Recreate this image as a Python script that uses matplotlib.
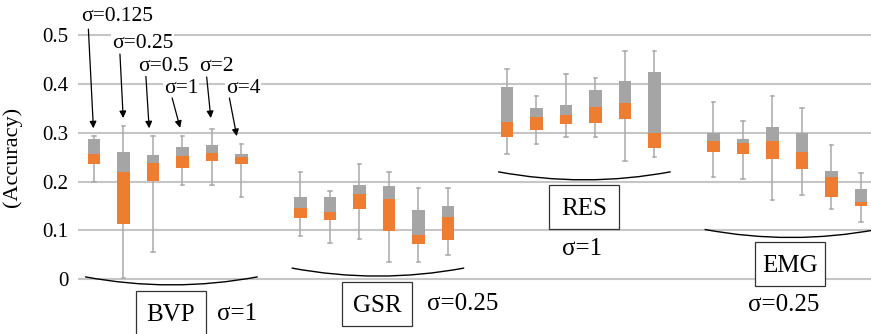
import matplotlib
matplotlib.use("Agg")
import matplotlib.pyplot as plt
from matplotlib.patches import Rectangle, PathPatch
from matplotlib.path import Path

plt.rcParams["font.family"] = ["Liberation Serif", "DejaVu Serif"]

# box statistics per signal, one entry per sigma (0.125, 0.25, 0.5, 1, 2, 4)
sigmas = ["σ=0.125", "σ=0.25", "σ=0.5", "σ=1", "σ=2", "σ=4"]
signals = ["BVP", "GSR", "RES", "EMG"]
best_sigma = ["σ=1", "σ=0.25", "σ=1", "σ=0.25"]

whisker_hi = [
    [0.294, 0.314, 0.294, 0.294, 0.307, 0.276],
    [0.219, 0.181, 0.236, 0.219, 0.186, 0.186],
    [0.430, 0.375, 0.420, 0.411, 0.468, 0.468],
    [0.362, 0.324, 0.375, 0.350, 0.275, 0.218],
]
q3 = [
    [0.287, 0.261, 0.255, 0.270, 0.274, 0.256],
    [0.168, 0.168, 0.192, 0.191, 0.142, 0.149],
    [0.394, 0.350, 0.356, 0.387, 0.406, 0.424],
    [0.300, 0.287, 0.312, 0.299, 0.222, 0.185],
]
median = [
    [0.256, 0.220, 0.237, 0.252, 0.258, 0.251],
    [0.145, 0.138, 0.174, 0.164, 0.090, 0.128],
    [0.321, 0.333, 0.336, 0.352, 0.361, 0.300],
    [0.282, 0.278, 0.282, 0.261, 0.209, 0.159],
]
q1 = [
    [0.235, 0.113, 0.201, 0.227, 0.242, 0.235],
    [0.125, 0.121, 0.143, 0.099, 0.072, 0.080],
    [0.292, 0.306, 0.317, 0.319, 0.329, 0.269],
    [0.261, 0.256, 0.246, 0.226, 0.168, 0.150],
]
whisker_lo = [
    [0.200, 0.002, 0.056, 0.193, 0.193, 0.168],
    [0.088, 0.074, 0.082, 0.036, 0.036, 0.050],
    [0.256, 0.276, 0.292, 0.292, 0.243, 0.251],
    [0.210, 0.205, 0.162, 0.173, 0.143, 0.117],
]

# where the group brackets and labels sit (y in accuracy units)
arc_level = [0.005, 0.023, 0.220, 0.102]
label_y = [-0.069, -0.050, 0.147, 0.031]
sigma_pos = [(4.16, -0.071, "left"), (11.28, -0.050, "left"),
             (16.54, 0.062, "center"), (23.39, -0.053, "center")]

# arrows for the sigma legend on the BVP group: text centre, arrow tail, arrow tip
sigma_text_xy = [(0.78, 0.537), (1.64, 0.483), (2.34, 0.4355),
                 (2.95, 0.390), (4.14, 0.4355), (5.05, 0.390)]
arrow_tail = [(-0.19, 0.512), (0.88, 0.461), (1.76, 0.415),
              (2.65, 0.371), (3.82, 0.414), (4.59, 0.371)]
arrow_tip = [(-0.02, 0.309), (0.99, 0.330), (1.87, 0.309),
             (2.92, 0.310), (3.96, 0.330), (4.84, 0.293)]

GRAY = "#a5a5a5"
ORANGE = "#ee7d31"
WHISK = "#a9a9a9"

fig = plt.figure(figsize=(8.71, 3.34), dpi=100)
ax = fig.add_axes([78 / 871, 0, 793 / 871, 1])

box_w = 0.41
cap_w = 0.12
for g in range(len(signals)):
    xs = [g * 7 + i for i in range(len(sigmas))]
    for i, x in enumerate(xs):
        ax.plot([x, x], [whisker_lo[g][i], whisker_hi[g][i]], color=WHISK, lw=1.1, zorder=2)
        for v in (whisker_lo[g][i], whisker_hi[g][i]):
            ax.plot([x - cap_w / 2, x + cap_w / 2], [v, v], color=WHISK, lw=1.1, zorder=2)
        ax.bar(x, q3[g][i] - median[g][i], bottom=median[g][i], width=box_w,
               color=GRAY, zorder=3)
        ax.bar(x, median[g][i] - q1[g][i], bottom=q1[g][i], width=box_w,
               color=ORANGE, zorder=3)

    # bracket under the group
    x0, x1 = xs[0] - 0.3, xs[-1] + 0.55
    y0 = arc_level[g]
    path = Path([(x0, y0), ((x0 + x1) / 2, y0 - 0.033), (x1, y0)],
                [Path.MOVETO, Path.CURVE3, Path.CURVE3])
    ax.add_patch(PathPatch(path, fc="none", ec="black", lw=1.0, zorder=4, clip_on=False))

    # signal name in a box
    cx = (xs[0] + xs[-1]) / 2 + 0.1
    ax.add_patch(Rectangle((cx - 2.373 / 2, label_y[g] - 0.045), 2.373, 0.09,
                           fc="white", ec="#333333", lw=0.9, zorder=5, clip_on=False))
    ax.text(cx, label_y[g] - 0.004, signals[g], ha="center", va="center", fontsize=18, zorder=6)
    sx, sy, sha = sigma_pos[g]
    ax.text(sx, sy, best_sigma[g], ha=sha, va="center", fontsize=18, zorder=6,
            bbox=dict(fc="white", ec="none", pad=1))

for lab, txy, tail, tip in zip(sigmas, sigma_text_xy, arrow_tail, arrow_tip):
    ax.text(txy[0], txy[1], lab, ha="center", va="center", fontsize=15.5, zorder=6,
            bbox=dict(fc="white", ec="none", pad=0.5))
    ax.annotate("", xy=tip, xytext=tail,
                arrowprops=dict(arrowstyle="-|>", color="black", lw=0.9,
                                mutation_scale=10, shrinkA=0, shrinkB=0), zorder=6)

ax.set_xlim(-0.542, 26.34)
ax.set_ylim(-0.112, 0.5716)
ax.set_yticks([0, 0.1, 0.2, 0.3, 0.4, 0.5])
ax.set_yticklabels(["0", "0.1", "0.2", "0.3", "0.4", "0.5"], fontsize=15)
ax.tick_params(axis="y", length=0, pad=7)
ax.set_xticks([])
ax.yaxis.grid(True, color="#c6c6c6", lw=1.5)
ax.set_axisbelow(True)
for s in ax.spines.values():
    s.set_visible(False)
ax.patch.set_alpha(0)

fig.text(12.5 / 871, 1 - 156.7 / 334, "(Accuracy)", rotation=90,
         ha="center", va="center", fontsize=16)

fig.savefig("out.png", dpi=100)
